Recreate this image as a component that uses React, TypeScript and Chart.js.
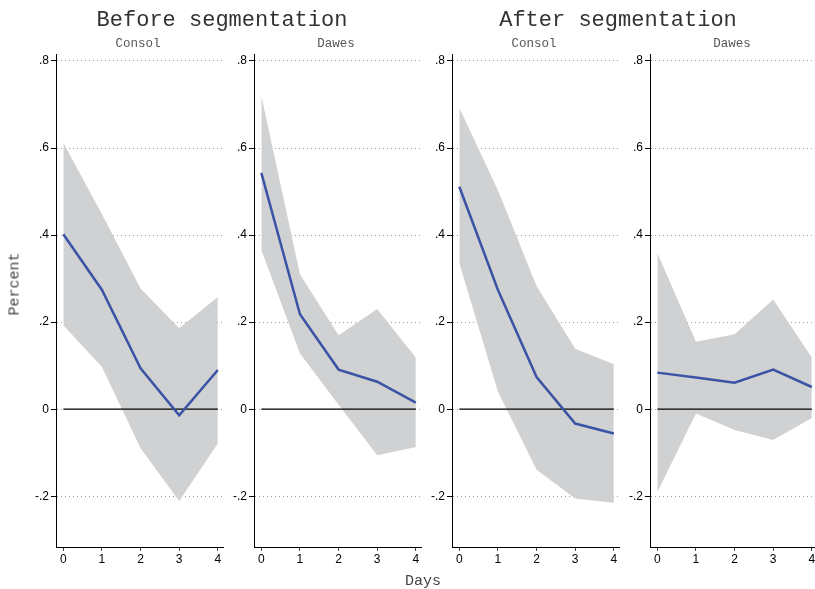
import React, { useEffect, useRef } from "react";
import { Chart, registerables } from "chart.js";

Chart.register(...registerables);

const days = [0, 1, 2, 3, 4];
const yTicks = [-0.2, 0, 0.2, 0.4, 0.6, 0.8];

const groupTitles = ["Before segmentation", "After segmentation"];
const panelTitles = ["Consol", "Dawes", "Consol", "Dawes"];

// Before segmentation, Consol
const beforeConsolMean = [0.402, 0.274, 0.094, -0.014, 0.09];
const beforeConsolUpper = [0.612, 0.448, 0.277, 0.186, 0.258];
const beforeConsolLower = [0.193, 0.097, -0.09, -0.211, -0.079];

// Before segmentation, Dawes
const beforeDawesMean = [0.543, 0.218, 0.091, 0.063, 0.015];
const beforeDawesUpper = [0.72, 0.31, 0.17, 0.23, 0.119];
const beforeDawesLower = [0.366, 0.128, 0.01, -0.106, -0.087];

// After segmentation, Consol
const afterConsolMean = [0.511, 0.274, 0.074, -0.033, -0.056];
const afterConsolUpper = [0.692, 0.503, 0.283, 0.139, 0.103];
const afterConsolLower = [0.335, 0.04, -0.139, -0.205, -0.215];

// After segmentation, Dawes
const afterDawesMean = [0.084, 0.073, 0.061, 0.091, 0.051];
const afterDawesUpper = [0.359, 0.155, 0.172, 0.252, 0.119];
const afterDawesLower = [-0.19, -0.01, -0.048, -0.071, -0.02];

const panelsData = [
  { mean: beforeConsolMean, upper: beforeConsolUpper, lower: beforeConsolLower },
  { mean: beforeDawesMean, upper: beforeDawesUpper, lower: beforeDawesLower },
  { mean: afterConsolMean, upper: afterConsolUpper, lower: afterConsolLower },
  { mean: afterDawesMean, upper: afterDawesUpper, lower: afterDawesLower },
];

// layout
const PLOT_LEFTS = [56, 254, 452, 650];
const PLOT_W = 168;
const Y_AXIS_W = 40;
const X_AXIS_H = 30;
const PLOT_TOP = 54;
const PLOT_BOTTOM = 547;
const H = 589;

const BLUE = "#3a53a4";
const GRAY_FILL = "rgb(208,209,211)";
const SANS = "'Liberation Sans', Arial, sans-serif";
const MONO = "'Liberation Mono', 'Courier New', monospace";

function fmtTick(v: number) {
  if (Math.abs(v) < 1e-9) return "0";
  const s = v.toFixed(1);
  return s.replace("0.", ".");
}

function Panel({ idx }: { idx: number }) {
  const ref = useRef<HTMLCanvasElement | null>(null);
  useEffect(() => {
    const d = panelsData[idx];
    const toXY = (arr: number[]) => arr.map((y, i) => ({ x: days[i], y }));
    const chart = new Chart(ref.current!, {
      type: "line",
      data: {
        datasets: [
          {
            data: toXY(d.lower),
            borderWidth: 0,
            borderColor: "rgba(0,0,0,0)",
            pointRadius: 0,
            fill: false,
            order: 3,
          },
          {
            data: toXY(d.upper),
            borderWidth: 0,
            borderColor: "rgba(0,0,0,0)",
            backgroundColor: GRAY_FILL,
            pointRadius: 0,
            fill: "-1",
            order: 2,
          },
          {
            data: [
              { x: days[0], y: 0 },
              { x: days[days.length - 1], y: 0 },
            ],
            borderWidth: 1.3,
            borderColor: "#000",
            pointRadius: 0,
            fill: false,
            order: 1,
          },
          {
            data: toXY(d.mean),
            borderWidth: 2.5,
            borderColor: BLUE,
            pointRadius: 0,
            fill: false,
            tension: 0,
            order: 0,
          },
        ],
      },
      options: {
        responsive: false,
        animation: false,
        events: [],
        layout: {
          padding: { top: PLOT_TOP, bottom: H - PLOT_BOTTOM - X_AXIS_H, left: 0, right: 0 },
        },
        plugins: {
          legend: { display: false },
          tooltip: { enabled: false },
          title: { display: false },
        },
        scales: {
          x: {
            type: "linear",
            min: -0.19,
            max: 4.16,
            afterFit: (s: any) => {
              s.height = X_AXIS_H;
              s.paddingLeft = 0;
              s.paddingRight = 0;
            },
            afterBuildTicks: (s: any) => {
              s.ticks = days.map((v) => ({ value: v }));
            },
            ticks: {
              color: "#000",
              font: { family: SANS, size: 12 },
              padding: 1,
              maxRotation: 0,
              autoSkip: false,
              callback: (v: any) => String(v),
            },
            grid: {
              drawOnChartArea: false,
              drawTicks: true,
              tickLength: 4,
              tickColor: "#444",
            },
            border: { display: true, color: "#000", width: 1 },
          },
          y: {
            type: "linear",
            min: -0.3166,
            max: 0.816,
            afterFit: (s: any) => {
              s.width = Y_AXIS_W;
              s.paddingTop = 0;
              s.paddingBottom = 0;
            },
            afterBuildTicks: (s: any) => {
              s.ticks = yTicks.map((v) => ({ value: v }));
            },
            ticks: {
              color: "#000",
              font: { family: SANS, size: 12 },
              padding: 2,
              autoSkip: false,
              callback: (v: any) => fmtTick(Number(v)),
            },
            grid: {
              color: "#9a9a9a",
              lineWidth: 1,
              drawTicks: true,
              tickLength: 5,
              tickColor: "#000",
              tickBorderDash: [],
            },
            border: { display: true, color: "#000", width: 1, dash: [1, 3] },
          },
        },
      },
    } as any);
    return () => chart.destroy();
  }, [idx]);

  const left = PLOT_LEFTS[idx] - Y_AXIS_W;
  const w = Y_AXIS_W + PLOT_W;
  return (
    <canvas
      ref={ref}
      width={w}
      height={H}
      style={{ position: "absolute", left, top: 0, width: w, height: H }}
    />
  );
}

export default function App() {
  const center = (i: number) => PLOT_LEFTS[i] + PLOT_W / 2 - 2;
  const textBase: React.CSSProperties = {
    position: "absolute",
    whiteSpace: "nowrap",
    transform: "translate(-50%, -50%)",
    color: "#333",
    lineHeight: 1,
  };
  return (
    <div
      style={{
        position: "absolute",
        left: 0,
        top: 0,
        width: 815,
        height: H,
        overflow: "hidden",
        background: "#fff",
      }}
    >
      {panelsData.map((_, i) => (
        <Panel key={i} idx={i} />
      ))}
      <div style={{ ...textBase, left: 222, top: 21, fontFamily: MONO, fontSize: 22 }}>
        {groupTitles[0]}
      </div>
      <div style={{ ...textBase, left: 618, top: 21, fontFamily: MONO, fontSize: 22 }}>
        {groupTitles[1]}
      </div>
      {panelTitles.map((t, i) => (
        <div
          key={i}
          style={{ ...textBase, left: center(i), top: 44, fontFamily: MONO, fontSize: 12.5, color: "#555" }}
        >
          {t}
        </div>
      ))}
      <div
        style={{
          ...textBase,
          left: 15,
          top: 284,
          fontFamily: MONO,
          fontSize: 15,
          color: "#444",
          transform: "translate(-50%, -50%) rotate(-90deg)",
        }}
      >
        Percent
      </div>
      <div style={{ ...textBase, left: 423, top: 581, fontFamily: MONO, fontSize: 15, color: "#444" }}>
        Days
      </div>
    </div>
  );
}
